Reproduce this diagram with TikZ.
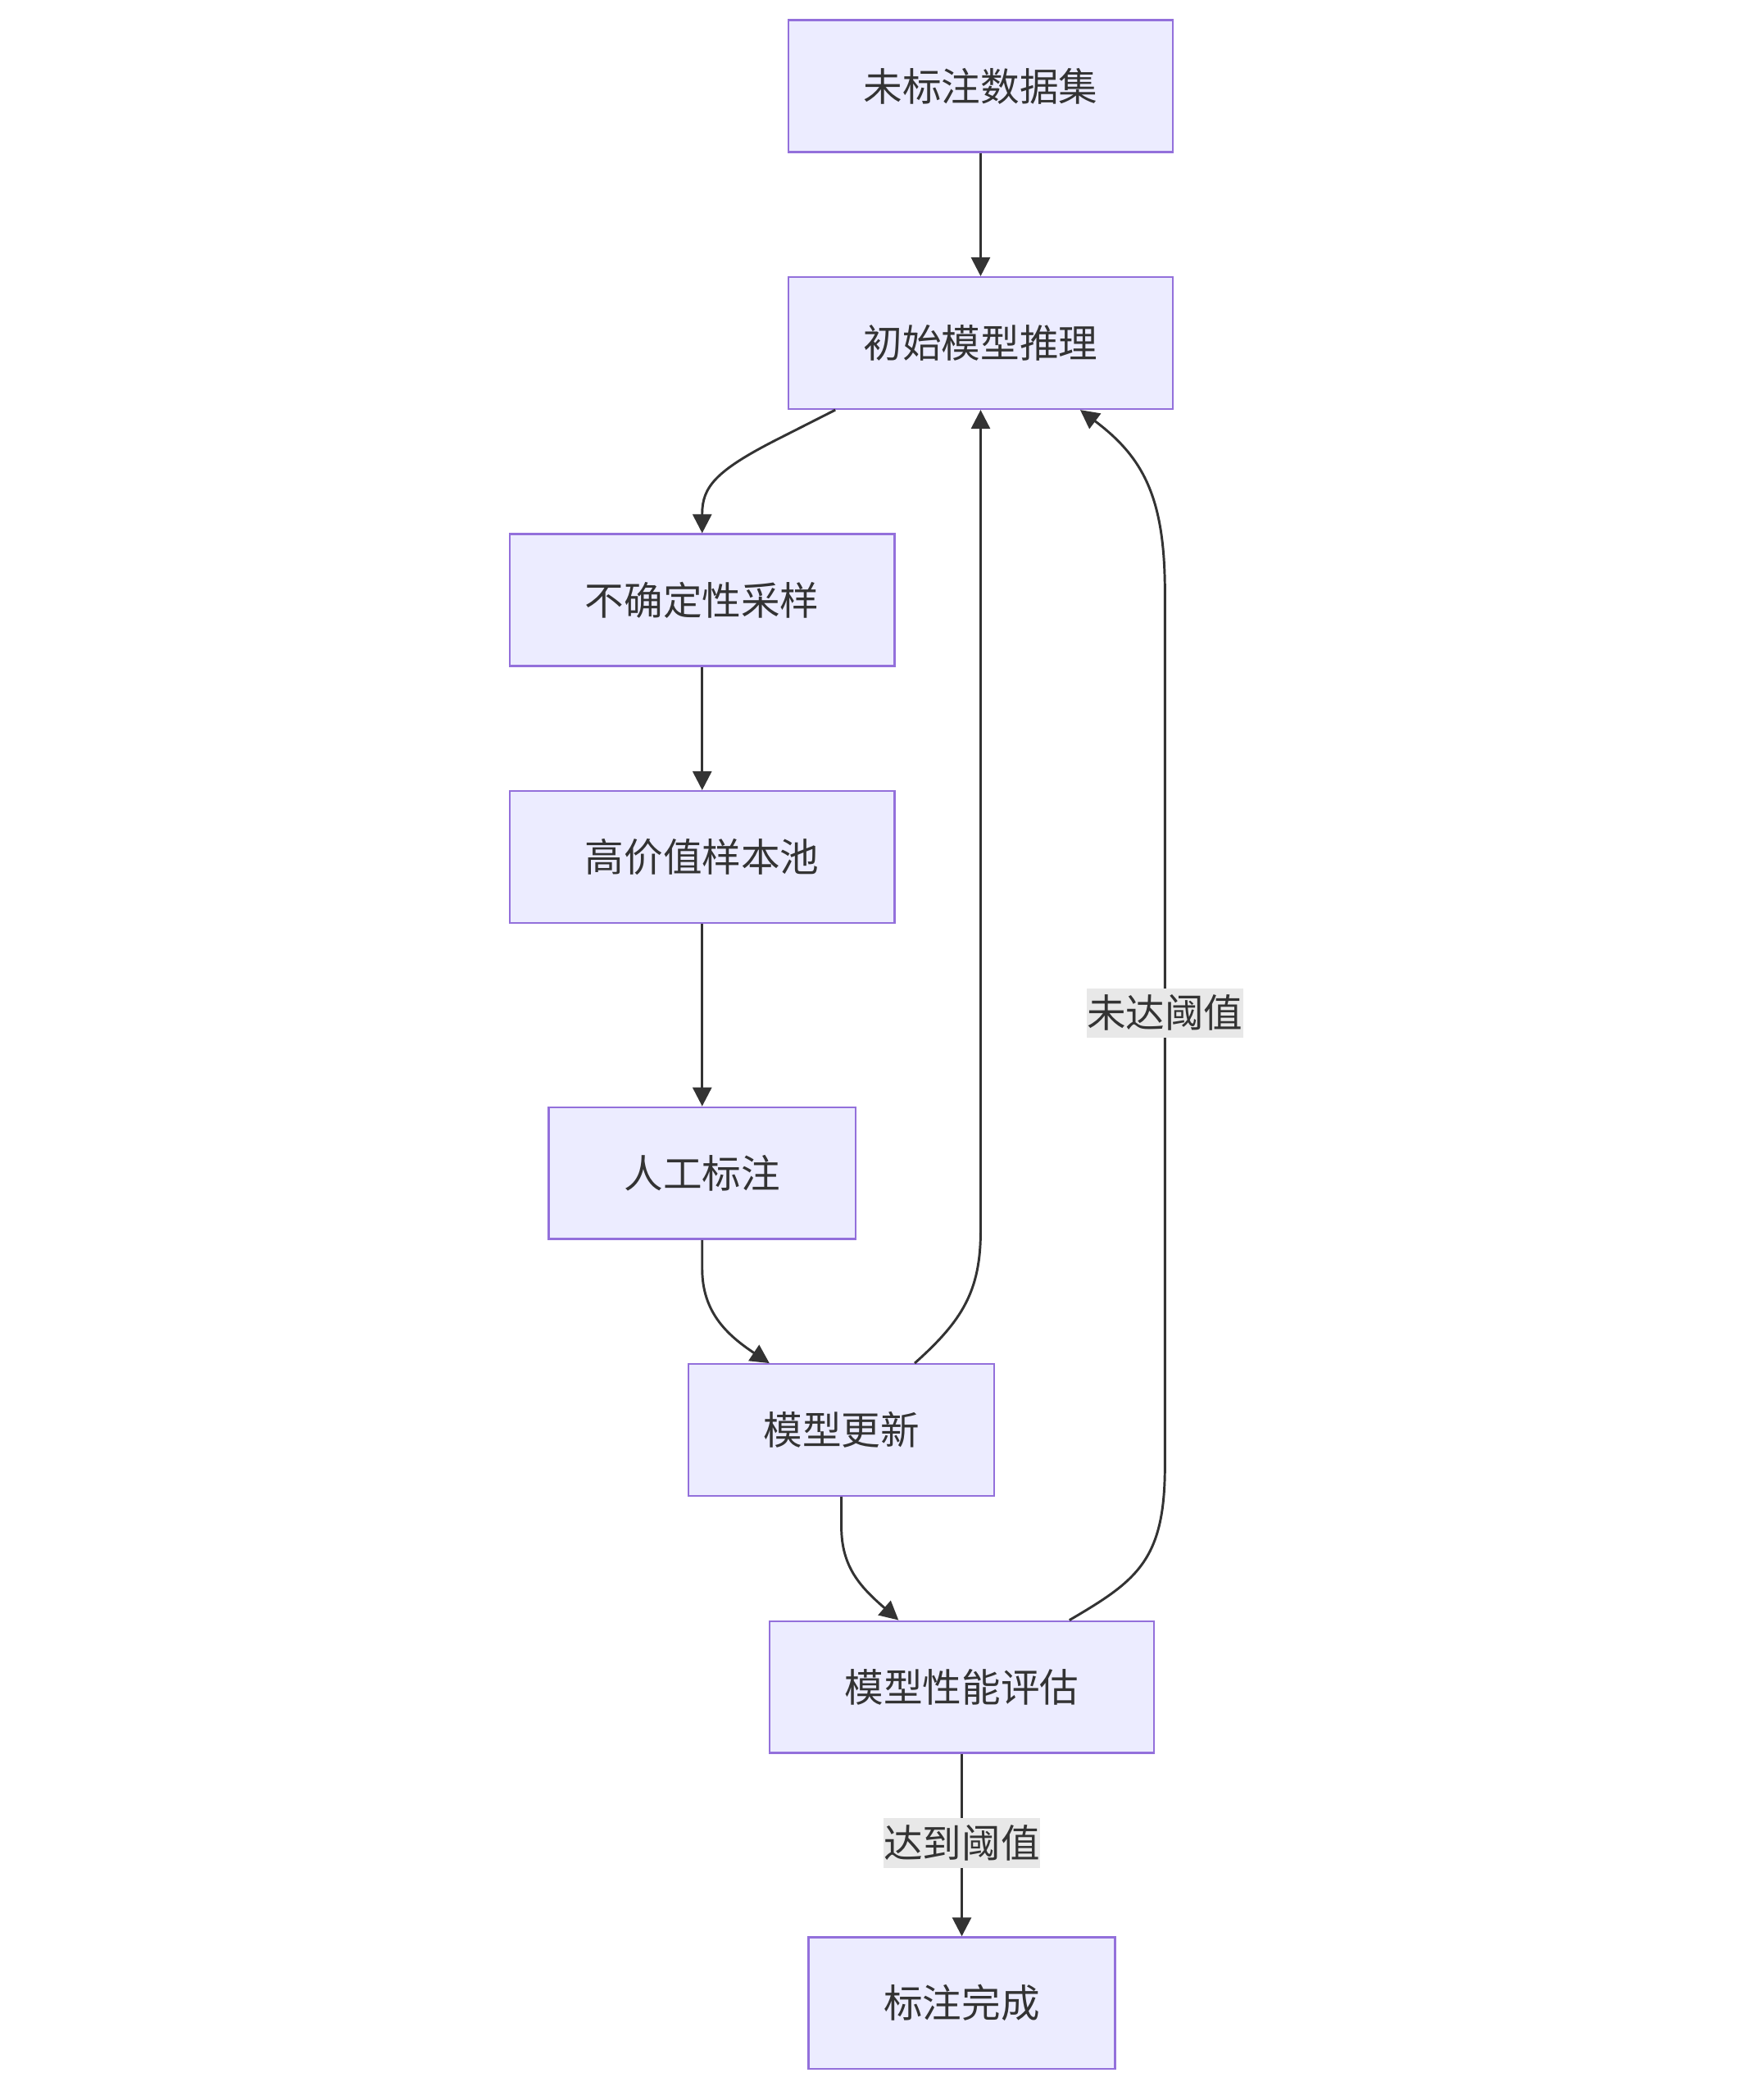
\documentclass[tikz,border=0pt]{standalone}
\usepackage{fontspec}
\setmainfont{Noto Sans CJK SC}
\usetikzlibrary{arrows.meta}
\definecolor{boxfill}{HTML}{ECECFF}
\definecolor{boxdraw}{HTML}{9370DB}
\definecolor{edgecol}{HTML}{333333}
\definecolor{lblfill}{HTML}{E8E8E8}
\tikzset{
  box/.style={draw=boxdraw, fill=boxfill, line width=1.4pt, minimum height=98pt, inner sep=0pt, text=edgecol, font=\fontsize{29}{34}\selectfont},
  arr/.style={draw=edgecol, line width=1.8pt, -{Triangle[length=14pt,width=14pt]}},
  lbl/.style={fill=lblfill, text=edgecol, inner xsep=0pt, inner ysep=5pt, font=\fontsize{29}{34}\selectfont}
}
\begin{document}
\begin{tikzpicture}[x=1pt,y=-1pt]
\useasboundingbox (0,0) rectangle (1300,1561);
\node[box, minimum width=286pt] (n1) at (729,64) {未标注数据集};
\node[box, minimum width=286pt] (n2) at (729,255) {初始模型推理};
\node[box, minimum width=286pt] (n3) at (522,446) {不确定性采样};
\node[box, minimum width=286pt] (n4) at (522,637) {高价值样本池};
\node[box, minimum width=228pt] (n5) at (522,872) {人工标注};
\node[box, minimum width=227pt] (n6) at (625.5,1063) {模型更新};
\node[box, minimum width=286pt] (n7) at (715,1254) {模型性能评估};
\node[box, minimum width=228pt] (n8) at (715,1489) {标注完成};

\draw[arr] (n1) -- (n2);
\draw[arr] ([xshift=-108pt]n2.south) -- (577,327) .. controls (532,350) and (522,362) .. (522,382) -- (n3.north);
\draw[arr] (n3) -- (n4);
\draw[arr] (n4) -- (n5);
\draw[arr] (n5.south) -- (522,943) .. controls (522,975) and (540,992) .. ([xshift=-53.5pt]n6.north);
\draw[arr] ([xshift=54.5pt]n6.north) .. controls (715,982) and (729,960) .. (729,915) -- (n2.south);
\draw[arr] (n6.south) -- (625.5,1135) .. controls (625.5,1165) and (640,1180) .. ([xshift=-47pt]n7.north);
\draw[arr] ([xshift=80pt]n7.north) .. controls (845,1175) and (866,1160) .. (866,1090) -- (866,440) .. controls (866,370) and (850,340) .. ([xshift=74pt]n2.south);
\node[lbl] (l1) at (866,753) {未达阈值};
\draw[arr] (n7) -- (n8);
\node[lbl] (l2) at (715,1370) {达到阈值};
\end{tikzpicture}
\end{document}
